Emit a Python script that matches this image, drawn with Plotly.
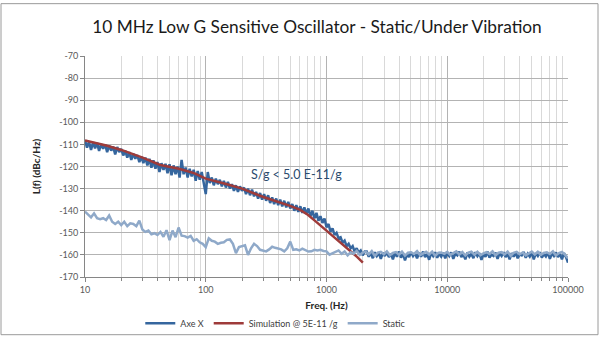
import numpy as np
import plotly.graph_objects as go

# ---------------- data ----------------
title_text = "10 MHz Low G Sensitive Oscillator - Static/Under Vibration"

# Axe X measurement (60 points per decade, 10 Hz .. 100 kHz)
axe_x_freq = np.geomspace(10, 100000, 241)
axe_x_val = [
    -108.0, -111.5, -108.8, -112.5, -109.0, -111.8, -109.3, -113.0, -109.8, -112.0,
    -110.0, -113.5, -110.5, -112.8, -111.0, -114.5, -111.2, -113.5, -112.0, -115.0,
    -112.8, -116.0, -113.5, -117.0, -114.2, -116.5, -114.8, -118.0, -115.5, -118.5,
    -116.0, -119.5, -116.5, -120.5, -117.2, -121.0, -118.0, -122.5, -118.5, -121.5,
    -118.8, -123.0, -119.0, -124.0, -119.5, -123.5, -120.0, -125.0, -117.0, -123.5,
    -120.5, -125.0, -121.0, -124.5, -121.5, -126.5, -122.0, -126.0, -122.5, -127.0,
    -132.5, -122.5, -127.5, -125.0, -128.5, -125.5, -128.0, -126.0, -129.0, -126.5,
    -129.5, -127.0, -130.0, -128.0, -131.0, -128.5, -131.5, -129.0, -131.0, -129.5,
    -132.5, -130.0, -133.0, -130.5, -133.5, -131.5, -134.5, -132.0, -135.0, -132.5,
    -135.5, -133.0, -136.5, -134.0, -137.0, -134.5, -137.5, -135.0, -138.0, -135.5,
    -138.5, -136.0, -139.0, -137.0, -140.0, -137.5, -140.5, -138.0, -141.0, -138.5,
    -141.5, -139.0, -142.5, -140.0, -143.5, -141.0, -144.5, -142.5, -145.5, -143.5,
    -147.5, -146.0, -149.5, -148.0, -151.0, -150.0, -152.5, -152.0, -154.5, -153.5,
    -156.0, -155.0, -157.0, -156.0, -158.5, -157.0, -159.0, -158.0, -160.2, -158.5,
    -158.5, -160.8, -159.0, -161.5, -158.8, -160.5, -159.2, -161.8, -159.0, -160.5,
    -158.8, -161.0, -159.5, -162.0, -159.0, -160.8, -158.5, -161.2, -159.5, -162.5,
    -159.8, -161.0, -158.8, -160.5, -159.2, -161.5, -159.0, -160.8, -158.5, -161.0,
    -159.5, -162.2, -159.2, -160.5, -158.8, -161.3, -159.5, -160.8, -159.0, -161.5,
    -159.2, -160.5, -158.8, -161.8, -159.5, -160.2, -158.5, -161.0, -159.8, -162.0,
    -159.0, -160.8, -159.5, -161.5, -158.8, -160.5, -159.2, -162.3, -159.5, -160.8,
    -158.5, -161.2, -159.8, -160.5, -159.0, -161.8, -159.3, -160.5, -158.8, -161.0,
    -159.5, -162.0, -159.2, -160.8, -159.0, -161.5, -159.8, -160.2, -158.7, -161.3,
    -159.5, -160.8, -159.0, -162.0, -159.3, -160.5, -158.8, -161.2, -159.6, -160.7,
    -159.0, -161.8, -159.4, -160.5, -158.9, -161.0, -159.5, -162.0, -159.2, -161.0,
    -163.5,
]

# Simulation @ 5E-11 /g
sim_freq = [10, 15, 20, 30, 42, 60, 80, 100, 150, 200, 300, 400, 500, 600,
            700, 800, 1000, 1200, 1400, 1600, 1800, 2000]
sim_val = [-108.2, -110.5, -112.5, -116.0, -119.3, -121.0, -123.0, -125.5,
           -128.0, -130.0, -133.8, -136.0, -137.8, -139.5, -141.8, -144.5,
           -149.0, -152.5, -155.5, -158.5, -161.0, -163.5]

# Static measurement (40 points per decade)
static_freq = np.geomspace(10, 100000, 161)
static_val = [
    -140.4, -141.9, -143.0, -141.2, -143.4, -143.8, -143.4, -144.2, -142.2, -145.0,
    -146.0, -145.0, -146.5, -145.0, -147.0, -145.7, -146.0, -147.0, -144.5, -148.5,
    -149.6, -149.0, -150.7, -150.2, -151.0, -149.6, -151.8, -148.8, -153.3, -149.0,
    -152.0, -147.6, -151.3, -151.5, -152.2, -151.4, -153.6, -152.9, -154.3, -155.0,
    -156.5, -152.5, -153.6, -154.0, -155.0, -154.5, -154.3, -153.2, -153.0, -155.0,
    -159.2, -156.5, -156.0, -155.7, -160.0, -157.0, -155.0, -156.0, -157.7, -158.0,
    -158.4, -157.5, -156.3, -156.8, -157.0, -157.5, -158.4, -157.0, -154.0, -157.7,
    -157.5, -158.0, -157.2, -157.7, -158.5, -158.4, -157.7, -158.0, -157.7, -158.2,
    -158.4, -159.9, -159.2, -158.4, -158.0, -159.5, -158.5, -160.2, -158.8, -159.5,
    -158.2, -160.0, -159.0, -158.5, -159.8, -158.3, -160.5, -159.0, -158.6, -159.7,
    -158.4, -160.2, -159.1, -158.7, -159.9, -158.5, -160.3, -159.0, -158.8, -159.6,
    -158.3, -160.1, -159.2, -158.6, -159.8, -158.5, -160.4, -159.1, -158.9, -159.5,
    -158.6, -160.0, -159.2, -158.4, -159.8, -158.7, -160.3, -159.0, -158.5, -159.9,
    -158.6, -160.1, -159.3, -158.8, -159.6, -158.4, -160.2, -159.0, -158.7, -159.8,
    -158.5, -160.4, -159.1, -158.6, -159.7, -158.9, -160.2, -159.3, -158.5, -159.8,
    -158.6, -160.0, -159.1, -158.8, -159.6, -158.4, -160.3, -159.2, -158.7, -159.9,
    -161.5,
]

x_tick_vals = [10, 100, 1000, 10000, 100000]
x_tick_text = ["10", "100", "1000", "10000", "100000"]
x_minor_vals = [m * d for d in (10, 100, 1000, 10000) for m in range(2, 10)]
y_tick_vals = [-70, -80, -90, -100, -110, -120, -130, -140, -150, -160, -170]
y_tick_text = ["-70", "-80", "-90", "-100", "-110", "-120", "-130", "-140", "-150", "-160", "-170"]

annotation_text = "S/g < 5.0 E-11/g"

FONT = "Lato, 'Open Sans', sans-serif"

fig = go.Figure()
fig.add_trace(go.Scatter(x=axe_x_freq, y=axe_x_val, mode="lines", name="Axe X",
                         line=dict(color="#35669E", width=2.5)))
fig.add_trace(go.Scatter(x=sim_freq, y=sim_val, mode="lines", name="Simulation @ 5E-11 /g",
                         line=dict(color="#9E3B3A", width=2.5)))
fig.add_trace(go.Scatter(x=static_freq, y=static_val, mode="lines", name="Static",
                         line=dict(color="#8FA9C9", width=2.5)))

fig.update_layout(
    width=600, height=350,
    margin=dict(l=85, r=32, t=56, b=63),
    paper_bgcolor="white", plot_bgcolor="white",
    font=dict(family=FONT, color="#404040"),
    title=dict(text=title_text, x=317 / 600, xanchor="center", y=1 - 27 / 350, yanchor="middle",
               font=dict(family=FONT, size=17.3, color="#1a1a1a")),
    showlegend=True,
    legend=dict(orientation="h", x=0.395, xanchor="center", y=-0.209, yanchor="middle",
                font=dict(size=9, color="#404040"), itemwidth=30,
                bgcolor="rgba(0,0,0,0)", tracegroupgap=0),
    xaxis=dict(
        type="log", range=[1, 5],
        tickvals=x_tick_vals, ticktext=x_tick_text,
        tickfont=dict(size=9, color="#595959"),
        showgrid=True, gridcolor="#B3B3B3", gridwidth=1,
        showline=True, linecolor="#868686", linewidth=1,
        ticks="outside", ticklen=4, tickcolor="#868686",
        minor=dict(tickvals=x_minor_vals, showgrid=True, gridcolor="#D9D9D9",
                   ticks="outside", ticklen=3, tickcolor="#868686"),
        zeroline=False,
        title=dict(text="<b>Freq. (Hz)</b>", font=dict(size=10, color="#262626"), standoff=8),
    ),
    yaxis=dict(
        range=[-170, -70], tickvals=y_tick_vals, ticktext=y_tick_text,
        tickfont=dict(size=9, color="#595959"),
        showgrid=True, gridcolor="#B3B3B3", gridwidth=1,
        showline=True, linecolor="#868686", linewidth=1,
        ticks="outside", ticklen=4, tickcolor="#868686",
        zeroline=False,
        title=dict(text="<b>L(f) (dBc/Hz)</b>", font=dict(size=10, color="#262626"), standoff=16),
    ),
    annotations=[dict(
        x=np.log10(560), y=-123.4, xref="x", yref="y", text=annotation_text,
        showarrow=False, font=dict(family=FONT, size=12.5, color="#2A4A6E"),
        xanchor="center", yanchor="middle",
    )],
    shapes=[dict(type="rect", xref="paper", yref="paper",
                 x0=(1 - 85) / 483, x1=(598 - 85) / 483,
                 y0=(286.7 - 347) / 231, y1=(286.7 - 1) / 231,
                 line=dict(color="#9A9A9A", width=1), fillcolor="rgba(0,0,0,0)",
                 layer="below")],
)

fig.write_html("out.html")
